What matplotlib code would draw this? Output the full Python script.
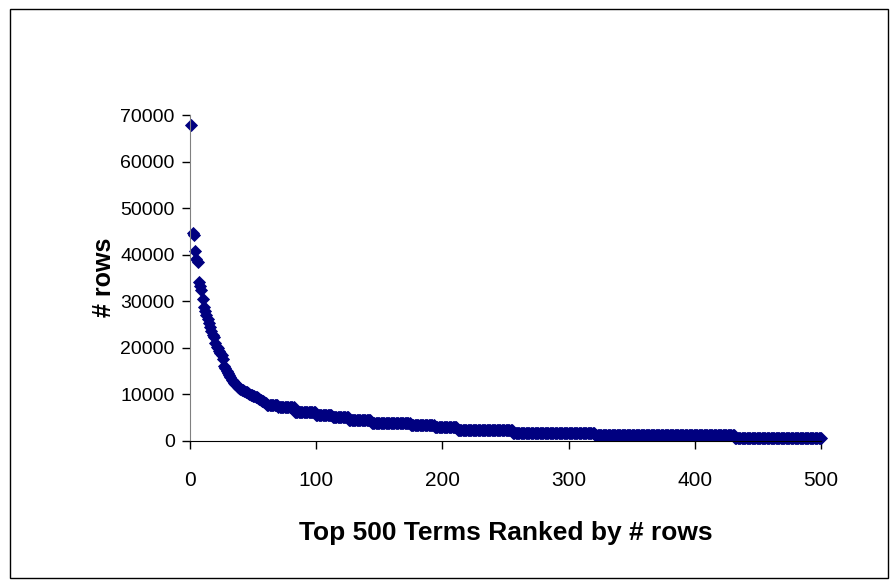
import matplotlib
matplotlib.use('Agg')
import matplotlib.pyplot as plt
import numpy as np
from matplotlib.patches import Rectangle

plt.rcParams['font.family'] = ['Liberation Sans', 'DejaVu Sans']

# top 60 terms read one by one
head_rows = [67800, 44600, 44300, 40800, 39000, 38400, 34200, 33300, 32300, 30500,
             28800, 27800, 27000, 26200, 25300, 24500, 23600, 22700, 22200, 21000,
             20200, 19800, 19300, 18900, 18500, 17500, 16100, 15600, 15000, 14600,
             14200, 13600, 13000, 12700, 12400, 12100, 11900, 11600, 11300, 11100,
             10900, 10800, 10600, 10500, 10400, 10200, 10000, 9900, 9700, 9600,
             9500, 9400, 9300, 9100, 9000, 8800, 8600, 8400, 8200, 8000]
# flat tail: level and how many terms sit at it
tail_rows = [7700, 7200, 6150, 5550, 4970, 4430, 3870, 3330, 2820, 2260, 1720, 1180, 560]
tail_count = [9, 13, 17, 13, 13, 18, 31, 19, 18, 44, 65, 111, 69]

rows = np.concatenate([head_rows, np.repeat(tail_rows, tail_count)])
rank = np.arange(1, len(rows) + 1)

fig = plt.figure(figsize=(8.9, 5.87), dpi=100)
ax = fig.add_axes([0.2135, 0.2495, 0.709, 0.5545])

ax.plot(rank, rows, linestyle='none', marker='D', ms=6, mew=0.6,
        color='#000080', mec='#000080', clip_on=False)

ax.set_xlim(0, 500)
ax.set_ylim(0, 70000)
ax.set_xticks(np.arange(0, 501, 100))
ax.set_yticks(np.arange(0, 70001, 10000))
ax.tick_params(direction='out', length=6, width=1, labelsize=15, pad=16)
ax.tick_params(axis='y', labelsize=14, pad=5)
for s in ['top', 'right']:
    ax.spines[s].set_visible(False)
ax.spines['left'].set_color('#808080')
ax.spines['bottom'].set_color('black')

ax.set_xlabel('Top 500 Terms Ranked by # rows', fontsize=19, fontweight='bold', labelpad=22)
ax.set_ylabel('# rows', fontsize=18, fontweight='bold', labelpad=3)

fig.patches.append(Rectangle((10 / 890, 1 - 578 / 587), 878 / 890, 569 / 587,
                             transform=fig.transFigure, fill=False,
                             edgecolor='black', lw=1))

fig.savefig('out.png', dpi=100)
